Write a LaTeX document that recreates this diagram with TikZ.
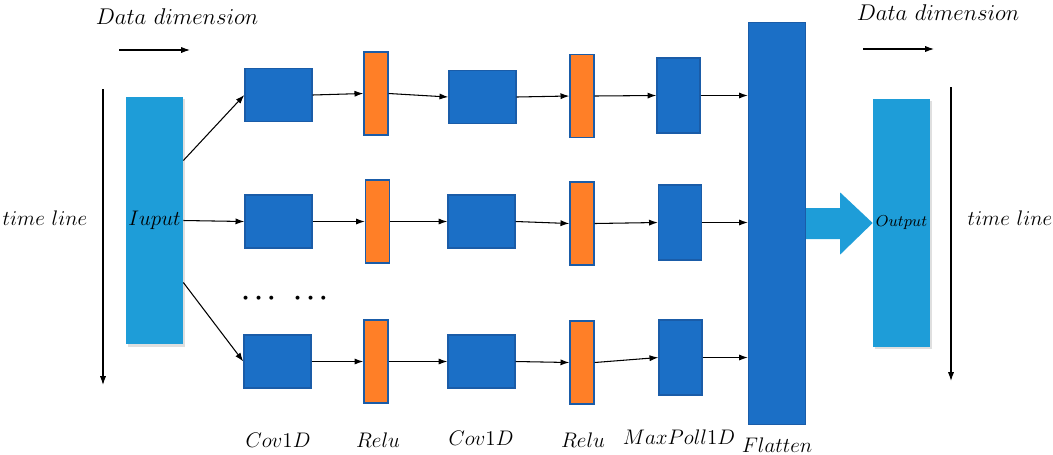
\documentclass[tikz,border=0pt]{standalone}
\usepackage{amsmath}
\usetikzlibrary{arrows.meta,calc,shadows}
\definecolor{dblue}{HTML}{1B6FC6}
\definecolor{eblue}{HTML}{1A5CA8}
\definecolor{lblue}{HTML}{1E9DD8}
\definecolor{orng}{HTML}{FF7F27}
\tikzset{
  convbox/.style={draw=eblue,line width=0.8pt,fill=dblue,minimum width=1.34cm,minimum height=1.06cm,inner sep=0pt},
  relubox/.style={draw=eblue,line width=0.8pt,fill=orng,minimum width=0.48cm,minimum height=1.66cm,inner sep=0pt},
  poolbox/.style={draw=eblue,line width=0.8pt,fill=dblue,minimum width=0.86cm,minimum height=1.5cm,inner sep=0pt},
  iobox/.style={fill=lblue,minimum width=1.14cm,minimum height=4.96cm,inner sep=0pt,
    drop shadow={shadow xshift=1.2pt,shadow yshift=-1.2pt,opacity=0.25}},
  flow/.style={-{Latex[length=5pt,width=3.5pt]},line width=0.6pt},
}
\begin{document}
\begin{tikzpicture}[x=0.02cm,y=-0.02cm]
    \useasboundingbox (0,0) rectangle (1053,454);
    % input and output
    \node[iobox] (inp) at (154.5,220.5) {\fontsize{11.5}{13}\selectfont $Iuput$};
    \node[iobox] (outp) at (901.5,223) {\small $Output$};
    \node[draw=eblue,line width=0.8pt,fill=dblue,minimum width=1.14cm,minimum height=8.04cm,inner sep=0pt] (flat) at (777,223.5) {};
    % first row
    \node[convbox] (c11) at (278.5,95) {};
    \node[relubox] (r11) at (376,93.5) {};
    \node[convbox] (c12) at (482.5,97) {};
    \node[relubox] (r12) at (582,96) {};
    \node[poolbox] (p1) at (678.5,95.5) {};
    % second row
    \node[convbox] (c21) at (278.5,221.5) {};
    \node[relubox] (r21) at (377.5,221.5) {};
    \node[convbox] (c22) at (481.5,221.5) {};
    \node[relubox] (r22) at (582,223.5) {};
    \node[poolbox] (p2) at (680,222.5) {};
    % third row
    \node[convbox] (c31) at (277.5,361.5) {};
    \node[relubox] (r31) at (376,361.5) {};
    \node[convbox] (c32) at (481.5,361.5) {};
    \node[relubox] (r32) at (582,362.5) {};
    \node[poolbox] (p3) at (680.5,357.5) {};
    \node (dta) at (261,298) {\Large $\boldsymbol{\cdots}$};
    \node (dtb) at (313,298) {\Large $\boldsymbol{\cdots}$};
    % connections
    \draw[flow] ($(inp.east)+(0,-60)$) -- (c11.west);
    \draw[flow] (inp.east) -- (c21.west);
    \draw[flow] ($(inp.east)+(0,62)$) -- (c31.west);
    \draw[flow] (c11.east) -- (r11.west);
    \draw[flow] (r11.east) -- (c12.west);
    \draw[flow] (c12.east) -- (r12.west);
    \draw[flow] (r12.east) -- (p1.west);
    \draw[flow] (c21.east) -- (r21.west);
    \draw[flow] (r21.east) -- (c22.west);
    \draw[flow] (c22.east) -- (r22.west);
    \draw[flow] (r22.east) -- (p2.west);
    \draw[flow] (c31.east) -- (r31.west);
    \draw[flow] (r31.east) -- (c32.west);
    \draw[flow] (c32.east) -- (r32.west);
    \draw[flow] (r32.east) -- (p3.west);
    \draw[flow] (p1.east) -- (p1.east -| flat.west);
    \draw[flow] (p2.east) -- (p2.east -| flat.west);
    \draw[flow] (p3.east) -- (p3.east -| flat.west);
    \fill[lblue] ($(flat.east)+(0,-15.5)$) -- ++(34,0) -- ++(0,-15.5) -- (outp.west)
        -- ($(flat.east)+(34,31)$) -- ++(0,-15.5) -- ($(flat.east)+(0,15.5)$) -- cycle;
    % axes
    \coordinate (ld0) at (119,50);
    \coordinate (ld1) at (190,50);
    \coordinate (lt0) at (103,89);
    \coordinate (lt1) at (103,385);
    \coordinate (rd0) at (863,49);
    \coordinate (rd1) at (934,49);
    \coordinate (rt0) at (951,87);
    \coordinate (rt1) at (951,381);
    \draw[flow] (ld0) -- (ld1);
    \draw[flow] (lt0) -- (lt1);
    \draw[flow] (rd0) -- (rd1);
    \draw[flow] (rt0) -- (rt1);
    \node[scale=0.9] (ldim) at (177,17) {\Large $Data\ dimension$};
    \node[scale=0.9] (rdim) at (938,13) {\Large $Data\ dimension$};
    \node (ltime) at (45,218) {\large $time\ line$};
    \node (rtime) at (1010,218) {\large $time\ line$};
    % layer names
    \node at (278,440) {\large $Cov1D$};
    \node at (378,440) {\large $Relu$};
    \node at (481,438) {\large $Cov1D$};
    \node at (583,440) {\large $Relu$};
    \node at (679,437) {\large $MaxPoll1D$};
    \node at (777,445) {\large $Flatten$};
\end{tikzpicture}
\end{document}
